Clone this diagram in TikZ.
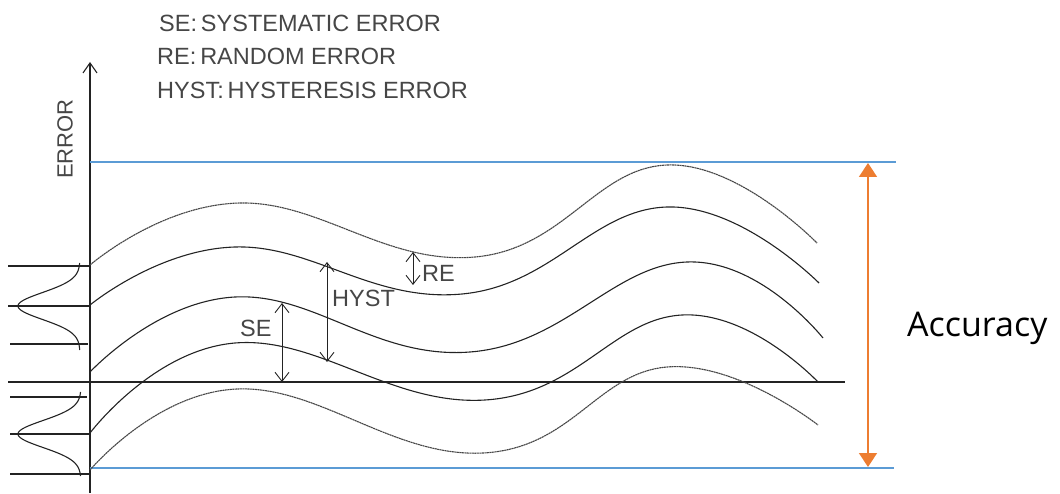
\documentclass[tikz,border=0pt]{standalone}
\usepackage{fontspec}
\setmainfont{Liberation Sans}
\newfontfamily\accfont{Open Sans}
\usetikzlibrary{arrows.meta,positioning}
\definecolor{ink}{RGB}{35,35,35}
\definecolor{pencil}{RGB}{70,70,70}
\definecolor{limitblue}{RGB}{91,155,213}
\definecolor{accorange}{RGB}{237,125,49}
\tikzset{
    curve/.style={
        draw=ink, line width=1.1pt, smooth, tension=0.75
    },
    bound curve/.style={
        draw=pencil, line width=1.1pt, smooth, tension=0.75,
        dash pattern=on 2pt off 0.5pt
    },
    tick/.style={
        draw=ink, line width=1.1pt
    },
    bell/.style={
        draw=ink, line width=1.1pt
    },
    errtext/.style={
        text=pencil, inner sep=0pt, font=\fontsize{23.5}{26}\selectfont
    },
    measure/.style={
        draw=ink, line width=0.9pt,
        {Straight Barb[length=9pt,width=14pt]}-{Straight Barb[length=9pt,width=14pt]}
    },
    limit/.style={
        draw=limitblue, line width=1.2pt
    },
    acc arrow/.style={
        draw=accorange, line width=1.6pt,
        {Triangle[length=14pt,width=18pt]}-{Triangle[length=14pt,width=18pt]}
    }
}

\begin{document}
\begin{tikzpicture}[x=1pt,y=-1pt]
    \useasboundingbox (0,0) rectangle (1060,494);

    % legend
    \node[errtext, anchor=base west] (legSE) at (159,32) {SE:\,SYSTEMATIC ERROR};
    \node[errtext, anchor=base west] (legRE) at (157,65) {RE:\,RANDOM ERROR};
    \node[errtext, anchor=base west] (legHY) at (157,99) {HYST:\,HYSTERESIS ERROR};

    % axes
    \coordinate (axBot) at (90,493);
    \coordinate (axTop) at (90,62);
    \draw[ink, line width=1.1pt, -{Straight Barb[length=10pt,width=14pt]}] (axBot) -- (axTop);
    \node[errtext, rotate=90, font=\fontsize{22}{24}\selectfont] (errLbl) at (65,139) {ERROR};
    \coordinate (zeroL) at (8,382);
    \coordinate (zeroR) at (845,382);
    \draw[tick, line width=1.3pt] (zeroL) -- (zeroR);

    % ticks on the left
    \draw[tick] (8,266) -- (90,266);
    \draw[tick] (8,306) -- (90,306);
    \draw[tick] (10,344) -- (88,344);
    \draw[tick] (10,397) -- (87,397);
    \draw[tick] (10,434) -- (90,434);
    \draw[tick] (10,474) -- (90,474);

    % distributions
    \draw[bell] plot[domain=-43:44, samples=70] ({80-62*exp(-(\x/19)^2)}, {306+\x});
    \draw[bell] plot[domain=-42:42, samples=70] ({81-63*exp(-(\x/19)^2)}, {434+\x});

    % limits
    \draw[limit] (90,162) -- (896,162);
    \draw[limit] (90,468) -- (894,468);

    % error curves
    \draw[bound curve] plot coordinates {(90,265) (240,203) (475,257) (667,165) (817,243)};
    \draw[curve] plot coordinates {(90,305) (235,247) (462,294) (667,207) (819,283)};
    \draw[curve] plot coordinates {(90,372) (235,297) (470,352) (687,262) (823,338)};
    \draw[curve] plot coordinates {(90,433) (235,343) (485,400) (682,315) (818,382)};
    \draw[bound curve] plot coordinates {(90,470) (237,389) (483,453) (667,367) (818,425)};

    % measures
    \coordinate (seTop) at (282,303);
    \coordinate (seBot) at (282,382);
    \coordinate (hyTop) at (327,262);
    \coordinate (hyBot) at (327,362);
    \coordinate (reTop) at (413,252);
    \coordinate (reBot) at (413,285);
    \draw[measure] (seTop) -- (seBot);
    \draw[measure] (hyTop) -- (hyBot);
    \draw[measure] (reTop) -- (reBot);
    \node[errtext, anchor=base west] (seLbl) at (240,337) {SE};
    \node[errtext, anchor=base west] (hyLbl) at (332,307) {HYST};
    \node[errtext, anchor=base west] (reLbl) at (422,282) {RE};

    % accuracy
    \coordinate (accTop) at (868,163);
    \coordinate (accBot) at (868,467);
    \draw[acc arrow] (accTop) -- (accBot);
    \node[inner sep=0pt, anchor=base west, font=\accfont\fontsize{34}{38}\selectfont] (accLbl) at (907,337) {Accuracy};
\end{tikzpicture}
\end{document}
